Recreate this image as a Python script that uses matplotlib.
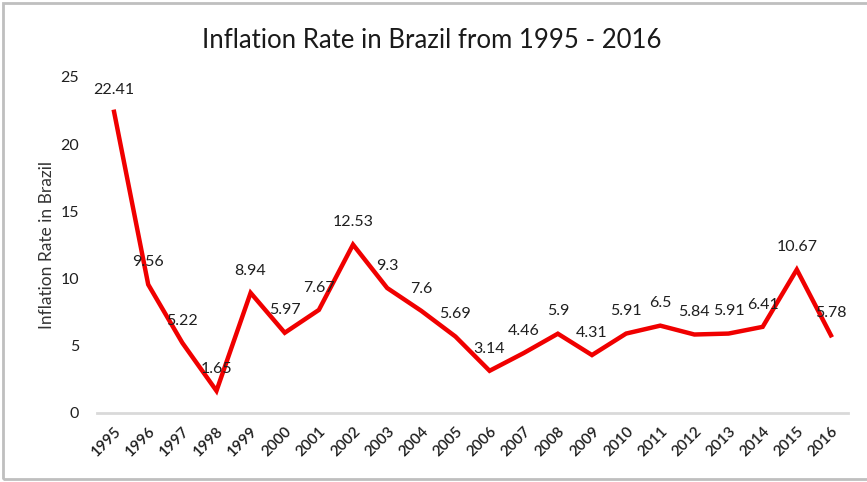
import matplotlib
matplotlib.use("Agg")
import matplotlib.pyplot as plt
from matplotlib.patches import Rectangle

years = ["1995", "1996", "1997", "1998", "1999", "2000", "2001", "2002", "2003", "2004", "2005",
         "2006", "2007", "2008", "2009", "2010", "2011", "2012", "2013", "2014", "2015", "2016"]
rates = [22.41, 9.56, 5.22, 1.65, 8.94, 5.97, 7.67, 12.53, 9.3, 7.6, 5.69,
         3.14, 4.46, 5.9, 4.31, 5.91, 6.5, 5.84, 5.91, 6.41, 10.67, 5.78]
labels = ["22.41", "9.56", "5.22", "1.65", "8.94", "5.97", "7.67", "12.53", "9.3", "7.6", "5.69",
          "3.14", "4.46", "5.9", "4.31", "5.91", "6.5", "5.84", "5.91", "6.41", "10.67", "5.78"]
yticks = [0, 5, 10, 15, 20, 25]

plt.rcParams['font.family'] = ['Lato', 'DejaVu Sans']

W, H = 867, 482
fig = plt.figure(figsize=(W / 100, H / 100), dpi=100)
ax = fig.add_axes([97 / W, 1 - 413 / H, (848 - 97) / W, (413 - 77) / H])

x = list(range(len(years)))
ax.plot(x, rates, color="#f00000", lw=3.2, solid_joinstyle="miter", zorder=3)

for xi, yi, lab in zip(x, rates, labels):
    ax.annotate(lab, (xi, yi), xytext=(0, 11), textcoords="offset points",
                ha="center", va="bottom", fontsize=11.5, color="#1f1f1f")

ax.set_xlim(-0.5, len(years) - 0.5)
ax.set_ylim(0, 25)
ax.set_yticks(yticks)
ax.set_yticklabels([str(t) for t in yticks], fontsize=11.5, color="#1f1f1f")
ax.set_xticks(x)
ax.set_xticklabels(years, rotation=45, ha="right", va="top", rotation_mode="anchor",
                   fontsize=11, color="#1f1f1f", fontweight="semibold")
ax.tick_params(axis="both", length=0)
ax.tick_params(axis="y", pad=13)
ax.tick_params(axis="x", pad=8)

for s in ["top", "right", "left"]:
    ax.spines[s].set_visible(False)
ax.spines["bottom"].set_color("#d9d9d9")
ax.spines["bottom"].set_linewidth(2)

ax.set_ylabel("Inflation Rate in Brazil", fontsize=12.5, color="#333333", labelpad=4)

fig.text(432 / W, 1 - 40 / H, "Inflation Rate in Brazil from 1995 - 2016",
         ha="center", va="center", fontsize=18.5, color="#1a1a1a")

fig.patches.append(Rectangle((3 / W, 3 / H), 1.0, 1 - 6 / H, transform=fig.transFigure,
                             fill=False, edgecolor="#bfbfbf", lw=2))

fig.savefig("out.png", dpi=100)
